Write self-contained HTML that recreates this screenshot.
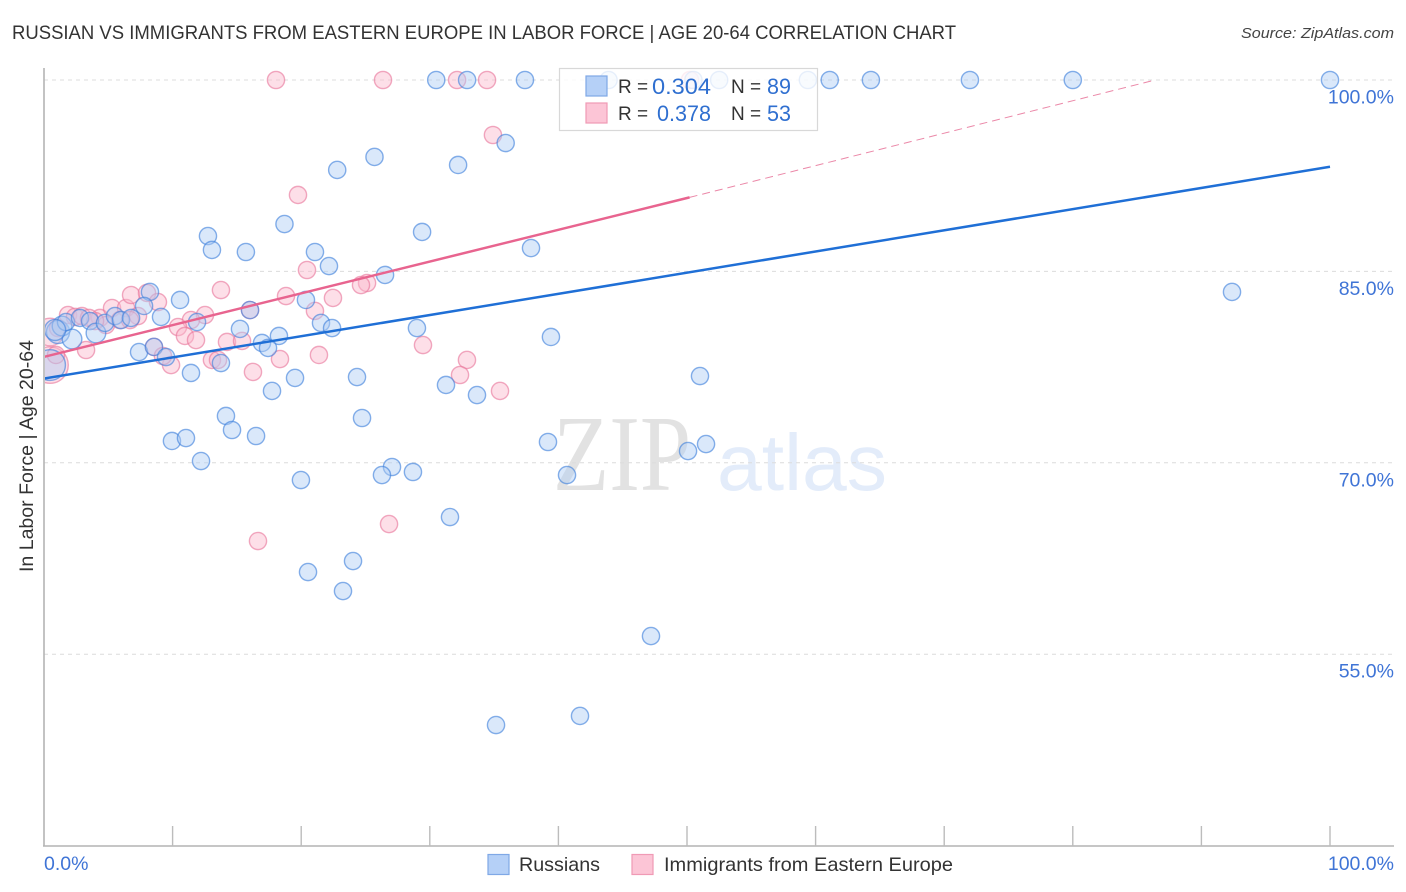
<!DOCTYPE html>
<html lang="en">
<head>
<meta charset="utf-8">
<title>Russian vs Immigrants from Eastern Europe in Labor Force | Age 20-64 Correlation Chart</title>
<style>
html,body{margin:0;padding:0;background:#fff;}
svg{display:block;font-family:"Liberation Sans",sans-serif;}
</style>
</head>
<body>
<svg id="chart" xmlns="http://www.w3.org/2000/svg" width="1406" height="892" viewBox="0 0 1406 892">
  <defs><clipPath id="plot-clip"><rect x="45" y="60" width="1349" height="786"/></clipPath></defs>
  <rect width="1406" height="892" fill="#fff"/>
  <text x="12" y="39" font-size="19.5" fill="#333" textLength="944" lengthAdjust="spacingAndGlyphs">RUSSIAN VS IMMIGRANTS FROM EASTERN EUROPE IN LABOR FORCE | AGE 20-64 CORRELATION CHART</text>
  <text x="1394" y="38" font-size="15" font-style="italic" fill="#444" text-anchor="end" textLength="153" lengthAdjust="spacingAndGlyphs">Source: ZipAtlas.com</text>
  <text x="0" y="0" font-size="19" fill="#333" text-anchor="middle" textLength="232" lengthAdjust="spacingAndGlyphs" transform="translate(33 456) rotate(-90)">In Labor Force | Age 20-64</text>
  <g>
    <text x="553" y="490" font-family="'Liberation Serif',serif" font-size="108" fill="#e2e2e2" textLength="138" lengthAdjust="spacingAndGlyphs">ZIP</text>
    <text x="717" y="490" font-size="80" fill="#e3ecfa" textLength="170" lengthAdjust="spacingAndGlyphs">atlas</text>
  </g>
  <g id="grid"></g>
  <g id="axes"></g>
  <g id="pink-points" clip-path="url(#plot-clip)"></g>
  <g id="blue-points" clip-path="url(#plot-clip)"></g>
  <g id="trend-lines" clip-path="url(#plot-clip)"></g>
  <g id="tick-labels"></g>

  <g>
    <rect x="559.5" y="68.5" width="258" height="62" fill="#fff" fill-opacity="0.8" stroke="#d8d8d8" stroke-width="1.2"/>
    <rect x="586" y="76" width="21" height="20" fill="#b5d0f7" stroke="#7fa8e6" stroke-width="1.2"/>
    <rect x="586" y="103" width="21" height="20" fill="#fcc5d6" stroke="#f09ab5" stroke-width="1.2"/>
    <text x="618" y="93" font-size="19" fill="#333">R =</text>
    <text x="652" y="94" font-size="22" fill="#2f6fd0" textLength="59" lengthAdjust="spacingAndGlyphs">0.304</text>
    <text x="731" y="93" font-size="19" fill="#333">N =</text>
    <text x="767" y="94" font-size="22" fill="#2f6fd0" textLength="24" lengthAdjust="spacingAndGlyphs">89</text>
    <text x="618" y="120" font-size="19" fill="#333">R =</text>
    <text x="657" y="121" font-size="22" fill="#2f6fd0" textLength="54" lengthAdjust="spacingAndGlyphs">0.378</text>
    <text x="731" y="120" font-size="19" fill="#333">N =</text>
    <text x="767" y="121" font-size="22" fill="#2f6fd0" textLength="24" lengthAdjust="spacingAndGlyphs">53</text>
  </g>

  <g>
    <rect x="488" y="854.5" width="21" height="20" fill="#b5d0f7" stroke="#7fa8e6" stroke-width="1.2"/>
    <text x="519" y="871" font-size="19.5" fill="#333" textLength="81" lengthAdjust="spacingAndGlyphs">Russians</text>
    <rect x="632" y="854.5" width="21" height="20" fill="#fcc5d6" stroke="#f09ab5" stroke-width="1.2"/>
    <text x="664" y="871" font-size="19.5" fill="#333" textLength="289" lengthAdjust="spacingAndGlyphs">Immigrants from Eastern Europe</text>
  </g>
</svg>

<script>
const xTickValues = [0, 10, 20, 30, 40, 50, 60, 70, 80, 90, 100];
const yTickValues = [100, 85, 70, 55];
const yTickLabels = ["100.0%", "85.0%", "70.0%", "55.0%"];
const xEndLabels = ["0.0%", "100.0%"];

const russiansX = [0.47,1.09,1.4,2.18,1.71,2.8,3.58,4.04,4.74,5.52,5.99,6.77,0.86,
30.5,32.9,37.4,43.9,50.5,52.5,59.4,61.1,64.3,72.0,80.0,100,
35.9,25.7,32.2,22.8,18.7,29.4,12.75,13.06,15.7,21.07,37.87,22.16,26.52,92.38,8.24,10.58,20.37,7.78,9.1,16.02,11.9,21.54,22.4,29.0,15.24,18.27,16.95,17.42,39.42,7.39,8.55,9.49,13.76,11.43,19.52,24.34,51.01,17.73,31.26,33.67,14.15,24.73,14.62,16.49,9.95,11.04,39.19,50.08,51.48,12.21,40.67,27.06,26.28,28.69,19.98,31.57,24.03,20.53,23.25,47.2,35.15,41.68];
const russiansY = [77.66,80.25,80.72,79.7,81.03,81.35,81.11,80.17,80.96,81.5,81.19,81.35,80.41,
100,100,100,100,100,100,100,100,100,100,100,100,
95.06,93.97,93.34,92.95,88.71,88.09,87.77,86.68,86.52,86.52,86.83,85.42,84.72,83.39,83.39,82.76,82.76,82.29,81.43,81.97,81.03,80.96,80.56,80.56,80.49,79.94,79.39,79.0,79.86,78.68,79.08,78.29,77.82,77.04,76.65,76.72,76.8,75.63,76.1,75.31,73.67,73.51,72.57,72.1,71.71,71.94,71.63,70.92,71.47,70.14,69.04,69.67,69.04,69.28,68.65,65.75,62.3,61.44,59.95,56.42,49.45,50.16];
const russiansWeight = [3.2,1.8,1.3,1.3,1,1,1,1.3,1,1,1,1,1.5];

const immigrantsX = [0.47,0.47,1.09,1.87,2.41,2.95,4.35,4.82,5.29,6.38,7.31,3.97,5.91,3.5,6.69,0.93,
18.04,26.36,32.12,34.45,50.23,34.91,19.75,20.45,25.12,24.65,13.76,18.82,22.47,6.77,8.01,8.86,12.52,21.07,16.02,11.43,10.42,10.96,11.82,14.23,15.4,29.47,21.38,18.35,13.06,13.53,16.25,32.89,32.35,35.46,8.55,9.88,3.27,9.25,26.83,16.64];
const immigrantsY = [77.66,80.25,80.56,81.58,81.43,81.5,81.35,80.8,82.13,82.13,81.5,81.11,81.19,81.35,81.19,78.45,
100,100,100,100,100,95.69,90.99,85.11,84.09,83.93,83.54,83.07,82.92,83.15,83.31,82.6,81.58,81.9,81.97,81.19,80.64,79.94,79.62,79.47,79.55,79.23,78.45,78.13,78.06,78.06,77.12,78.06,76.88,75.63,79.08,77.66,78.84,78.37,65.2,63.87];
const immigrantsWeight = [4.5,2.6,1,1,1,1,1,1,1,1,1,1,1,1,1,1];

const russiansTrendX = [0, 100];
const russiansTrendY = [76.6, 93.2];
const immigrantsTrendX = [0, 50.2];
const immigrantsTrendY = [78.3, 90.8];
const immigrantsTrendExtX = [50.2, 86.4];
const immigrantsTrendExtY = [90.8, 100];

const xScale = v => 44 + v * 12.86;
const yScale = v => 80 + (100 - v) * 12.76;
const SVG_NS = "http://www.w3.org/2000/svg";

function make(tag, parent, attrs) {
  const el = document.createElementNS(SVG_NS, tag);
  Object.keys(attrs).forEach(k => el.setAttribute(k, attrs[k]));
  parent.appendChild(el);
  return el;
}

const grid = document.getElementById("grid");
yTickValues.forEach((v) => {
  const line = make("line", grid, {x1: 44, x2: 1394, y1: yScale(v), y2: yScale(v), stroke: "#dcdcdc", "stroke-width": 1, "stroke-dasharray": "4 4"});
  
  
});

const axes = document.getElementById("axes");
const yAxisLine = make("line", axes, {x1: 44, x2: 44, y1: 68, y2: 846.5, stroke: "#b4b4b4", "stroke-width": 1.6});


const xAxisLine = make("line", axes, {x1: 43, x2: 1394, y1: 846, y2: 846, stroke: "#b4b4b4", "stroke-width": 1.6});


xTickValues.forEach((v) => {
  if (v === 0) return;
  const tick = make("line", axes, {x1: xScale(v), x2: xScale(v), y1: 826, y2: 846, stroke: "#bcbcbc", "stroke-width": 1.4});
  
  
});

function drawPoints(groupId, xs, ys, weights, fill, stroke, name) {
  const group = document.getElementById(groupId);
  xs.forEach((x, i) => {
    const w = i < weights.length ? weights[i] : 1;
    const c = make("circle", group, {cx: xScale(x), cy: yScale(ys[i]), r: 8.6 * Math.sqrt(w), fill: fill, "fill-opacity": 0.45, stroke: stroke, "stroke-opacity": 0.62, "stroke-width": 1.4});
    
    
  });
}
drawPoints("pink-points", immigrantsX, immigrantsY, immigrantsWeight, "#fbb8cc", "#e9769b", "immigrants-point");
drawPoints("blue-points", russiansX, russiansY, russiansWeight, "#aecbf5", "#3d7fdc", "russians-point");

const trends = document.getElementById("trend-lines");
const trendPink = make("line", trends, {x1: xScale(immigrantsTrendX[0]), y1: yScale(immigrantsTrendY[0]), x2: xScale(immigrantsTrendX[1]), y2: yScale(immigrantsTrendY[1]), stroke: "#e8648f", "stroke-width": 2.5});


const trendPinkExt = make("line", trends, {x1: xScale(immigrantsTrendExtX[0]), y1: yScale(immigrantsTrendExtY[0]), x2: xScale(immigrantsTrendExtX[1]), y2: yScale(immigrantsTrendExtY[1]), stroke: "#eb88a8", "stroke-width": 1, "stroke-dasharray": "8 5"});


const trendBlue = make("line", trends, {x1: xScale(russiansTrendX[0]), y1: yScale(russiansTrendY[0]), x2: xScale(russiansTrendX[1]), y2: yScale(russiansTrendY[1]), stroke: "#1f6fd6", "stroke-width": 2.5});



const labels = document.getElementById("tick-labels");
yTickValues.forEach((v, i) => {
  const t = make("text", labels, {x: 1394, y: yScale(v) + 23.5, "font-size": 19.5, fill: "#3f74d6", "text-anchor": "end"});
  t.textContent = yTickLabels[i];
  
  
});
const xLabelLeft = make("text", labels, {x: 44, y: 870, "font-size": 19.5, fill: "#3f74d6"});
xLabelLeft.textContent = xEndLabels[0];


const xLabelRight = make("text", labels, {x: 1394, y: 870, "font-size": 19.5, fill: "#3f74d6", "text-anchor": "end"});
xLabelRight.textContent = xEndLabels[1];


</script>
</body>
</html>
